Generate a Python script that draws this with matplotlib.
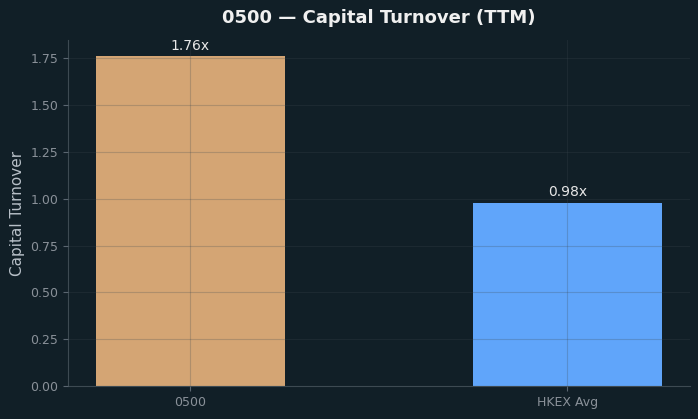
import matplotlib
matplotlib.use("Agg")
from matplotlib import pyplot as plt

labels = ["0500", "HKEX Avg"]
values = [1.76, 0.98]
colors = ["#d4a574", "#60a5fa"]

bg = "#111f27"
fig, ax = plt.subplots(figsize=(6.98, 4.19), dpi=100)
fig.patch.set_facecolor(bg)
ax.set_facecolor(bg)

bars = ax.bar(labels, values, color=colors, width=0.5)
for b, v in zip(bars, values):
    ax.text(b.get_x() + b.get_width() / 2, v + 0.02, f"{v:.2f}x",
            ha="center", va="bottom", color="#e8e8e8", fontsize=10)

ax.grid(True, color="#3d4a52", linewidth=0.8, alpha=0.25)
ax.set_axisbelow(False)
for s in ["top", "right"]:
    ax.spines[s].set_visible(False)
for s in ["left", "bottom"]:
    ax.spines[s].set_color("#3d4a52")
ax.tick_params(colors="#8a9199", labelsize=9)
ax.tick_params(axis="both", color="#5a6670")
ax.set_ylabel("Capital Turnover", color="#b8c0c8", fontsize=11)
ax.set_title("0500 — Capital Turnover (TTM)", color="#f0f0f0",
             fontsize=13, fontweight="bold", pad=12)

fig.subplots_adjust(left=0.0974, right=0.9885, top=0.9045, bottom=0.0788)
plt.savefig("out.png", dpi=100, facecolor=bg)
plt.close()
